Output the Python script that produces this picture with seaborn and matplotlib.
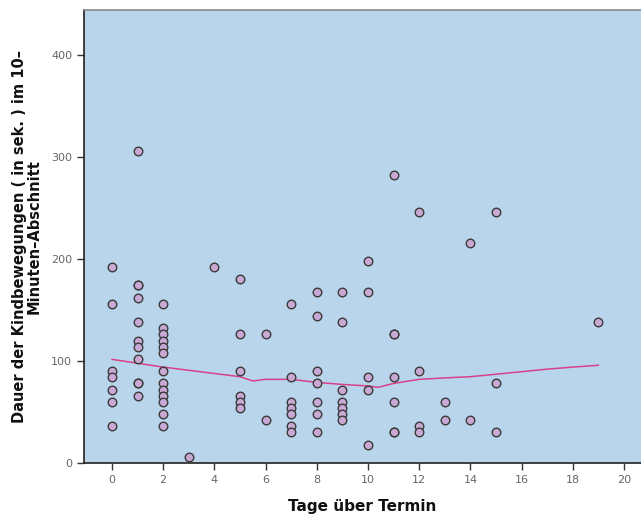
import matplotlib
matplotlib.use("Agg")
import matplotlib.pyplot as plt
import seaborn as sns
import pandas as pd

# Data: days over term (x) and duration of movements (y)
tage_0 = [192, 156, 90, 84, 72, 60, 36]
tage_1 = [306, 174, 174, 162, 138, 120, 114, 102, 78, 78, 66]
tage_2 = [156, 132, 126, 120, 114, 108, 90, 78, 72, 66, 60, 48, 36]
tage_3 = [6]
tage_4 = [192]
tage_5 = [180, 126, 90, 66, 60, 54]
tage_6 = [126, 42]
tage_7 = [156, 84, 60, 54, 48, 36, 30]
tage_8 = [168, 144, 90, 78, 60, 48, 30]
tage_9 = [168, 138, 72, 60, 54, 48, 42]
tage_10 = [198, 168, 84, 72, 18]
tage_11 = [282, 126, 126, 84, 60, 30, 30]
tage_12 = [246, 90, 36, 30]
tage_13 = [60, 42]
tage_14 = [216, 42]
tage_15 = [246, 78, 30]
tage_19 = [138]

groups = {0: tage_0, 1: tage_1, 2: tage_2, 3: tage_3, 4: tage_4, 5: tage_5,
          6: tage_6, 7: tage_7, 8: tage_8, 9: tage_9, 10: tage_10, 11: tage_11,
          12: tage_12, 13: tage_13, 14: tage_14, 15: tage_15, 19: tage_19}

# Loess fit line
fit_x = [0, 2, 5, 5.5, 6, 7, 8, 9, 10, 10.4, 11, 12, 13, 14, 15, 16, 17, 18, 19]
fit_y = [101.6, 94, 84.6, 80.4, 82, 82, 79, 77, 75.5, 74.2, 78, 82, 83.4, 84.6, 87, 89.5, 92, 94, 95.8]

x_ticks = list(range(0, 21, 2))
y_ticks = [0, 100, 200, 300, 400]

rows = [(k, v) for k, vals in groups.items() for v in vals]
df = pd.DataFrame(rows, columns=["tage", "dauer"])
fit = pd.DataFrame({"x": fit_x, "y": fit_y})

sns.set_theme(style="ticks")
plt.rcParams['font.family'] = ['DejaVu Sans']

fig = plt.figure(figsize=(6.41, 5.15), dpi=100)
ax = fig.add_axes([84/641, 1 - 463/515, 1 - 84/641, (463 - 10)/515])
ax.set_facecolor("#B8D5EC")

sns.lineplot(data=fit, x="x", y="y", ax=ax, color="#D9408A", linewidth=1.1, zorder=2)
sns.scatterplot(data=df, x="tage", y="dauer", ax=ax, s=38, color="#C9A8D4",
                edgecolor="#3a3a3a", linewidth=1.0, zorder=3)

ax.set_xlim(-1.09, 20.66)
ax.set_ylim(0, 444)
ax.set_xticks(x_ticks)
ax.set_yticks(y_ticks)
ax.tick_params(axis="both", labelsize=8, labelcolor="#666666", length=5, width=1, color="#333333", direction="out")

for side in ["left", "bottom"]:
    ax.spines[side].set_color("#222222")
    ax.spines[side].set_linewidth(1.2)
ax.spines["top"].set_color("#888888")
ax.spines["top"].set_linewidth(1.2)
ax.spines["right"].set_visible(False)

ax.set_xlabel("Tage über Termin", fontsize=11, fontweight="bold", color="#111111", labelpad=10)
ax.set_ylabel("Dauer der Kindbewegungen ( in sek. ) im 10–\nMinuten–Abschnitt", fontsize=10.5,
              fontweight="bold", color="#111111", labelpad=7, linespacing=0.95)

fig.savefig("out.png", dpi=100)
